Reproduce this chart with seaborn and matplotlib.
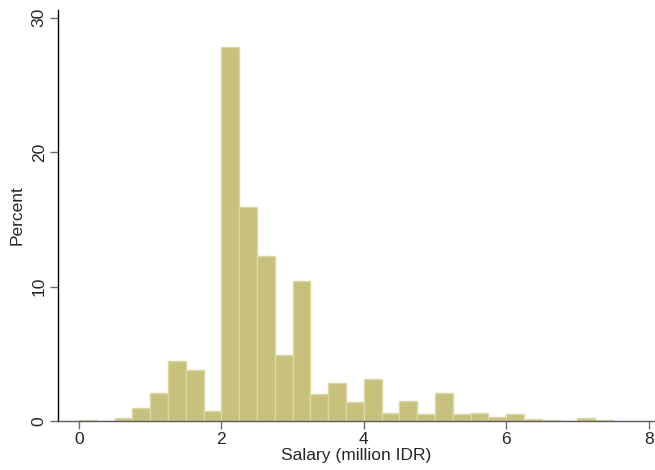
import numpy as np
import pandas as pd
import matplotlib
matplotlib.use("Agg")
import matplotlib.pyplot as plt
import seaborn as sns

# Salary histogram, bins of 0.25 million IDR starting at 0
bin_width = 0.25
bin_left = [0.00, 0.25, 0.50, 0.75, 1.00, 1.25, 1.50, 1.75, 2.00, 2.25,
            2.50, 2.75, 3.00, 3.25, 3.50, 3.75, 4.00, 4.25, 4.50, 4.75,
            5.00, 5.25, 5.50, 5.75, 6.00, 6.25, 6.50, 6.75, 7.00, 7.25]
percent = [0.10, 0.00, 0.20, 0.97, 2.06, 4.47, 3.80, 0.74, 27.85, 15.93,
           12.29, 4.91, 10.42, 2.00, 2.83, 1.41, 3.10, 0.57, 1.49, 0.50,
           2.06, 0.55, 0.60, 0.30, 0.52, 0.12, 0.10, 0.00, 0.20, 0.08]

df = pd.DataFrame({"salary": np.array(bin_left) + bin_width / 2,
                   "percent": percent})
edges = [float(b) for b in bin_left] + [bin_left[-1] + bin_width]

sns.set_style("white")
plt.rcParams["font.family"] = ["Liberation Sans", "DejaVu Sans"]

fig = plt.figure(figsize=(6.55, 4.70), dpi=100)
ax = fig.add_axes([0.0885, 0.1043, 0.9115, 0.8744])

sns.histplot(data=df, x="salary", weights="percent", bins=edges, ax=ax,
             color="#c8c17e", alpha=1.0, edgecolor="#dcd7a6", linewidth=1.0)

ax.set_xlim(-0.295, 8.09)
ax.set_ylim(0, 30.57)
ax.set_xticks([0, 2, 4, 6, 8])
ax.set_yticks([0, 10, 20, 30])
ax.set_xlabel("Salary (million IDR)", fontsize=12.5, labelpad=1)
ax.set_ylabel("Percent", fontsize=12.5, labelpad=5)

for side in ["top", "right"]:
    ax.spines[side].set_visible(False)
ax.spines["left"].set_color("black")
ax.spines["left"].set_linewidth(1.0)
ax.spines["bottom"].set_color("#5a5a5a")
ax.spines["bottom"].set_linewidth(1.0)

ax.tick_params(axis="both", which="major", direction="out", length=6,
               width=1.0, color="#6e6e6e", labelsize=12.5, pad=2,
               bottom=True, left=True)
for lab in ax.get_yticklabels():
    lab.set_rotation(90)
    lab.set_va("center")

fig.savefig("out.png", dpi=100)
